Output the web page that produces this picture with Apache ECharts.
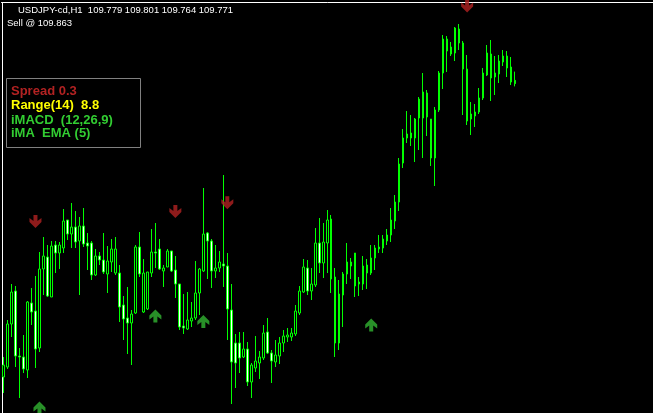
<!DOCTYPE html>
<html><head><meta charset="utf-8">
<script src="https://cdn.jsdelivr.net/npm/echarts@6/dist/echarts.min.js"></script>
<style>html,body{margin:0;padding:0;background:#000;overflow:hidden}#c{width:653px;height:413px}</style>
</head><body><div id="c"></div>
<script>
// USDJPY-cd H1 bars (oldest -> newest)
const opens = [109.0375,109.0625,109.17,109.2525,109.09,109.0875,109.055,109.2225,109.2025,109.11,
109.3075,109.3375,109.2375,109.3675,109.3475,109.36,109.43,109.395,109.4125,109.3775,
109.415,109.3725,109.3725,109.2925,109.34,109.33,109.295,109.325,109.2975,109.2975,
109.2175,109.185,109.1725,109.1975,109.3625,109.20,109.2075,109.2975,109.35,109.3575,
109.3025,109.3125,109.3525,109.305,109.27,109.165,109.1575,109.1775,109.185,109.2475,
109.3025,109.3975,109.3775,109.3025,109.31,109.32,109.315,109.205,109.1225,109.1225,
109.0875,109.1075,109.025,109.06,109.0725,109.085,109.15,109.0975,109.075,109.09,
109.1225,109.1375,109.1375,109.145,109.1975,109.25,109.31,109.2525,109.2675,109.3725,
109.3225,109.3725,109.4325,109.2875,109.1225,109.2425,109.295,109.325,109.3475,109.27,
109.27,109.3175,109.2975,109.335,109.3625,109.36,109.3775,109.3925,109.4275,109.475,
109.5725,109.635,109.6475,109.635,109.685,109.685,109.7475,109.6825,109.585,109.705,
109.7975,109.8825,109.8625,109.8475,109.9075,109.8725,109.8075,109.6825,109.69,109.70,
109.735,109.7925,109.845,109.7875,109.795,109.825,109.84,109.8125,109.779];
const highs = [109.0875,109.18,109.27,109.265,109.11,109.1425,109.2275,109.26,109.29,109.35,
109.3875,109.3675,109.3775,109.3775,109.375,109.4575,109.43,109.4725,109.4525,109.4375,
109.46,109.3975,109.3775,109.3575,109.35,109.3975,109.365,109.3825,109.3875,109.3175,
109.24,109.2625,109.205,109.3675,109.40,109.3325,109.30,109.4075,109.4225,109.3825,
109.3175,109.3575,109.3525,109.34,109.27,109.245,109.25,109.225,109.3275,109.31,
109.51,109.40,109.3825,109.3675,109.3525,109.5425,109.3475,109.27,109.145,109.15,
109.15,109.125,109.0725,109.14,109.1025,109.1675,109.185,109.105,109.13,109.1375,
109.155,109.16,109.16,109.2175,109.265,109.3325,109.33,109.31,109.41,109.435,
109.4225,109.455,109.4425,109.31,109.28,109.30,109.3725,109.335,109.3475,109.2875,
109.34,109.3325,109.3675,109.3675,109.3925,109.3925,109.4075,109.46,109.4925,109.585,
109.6575,109.7025,109.6925,109.685,109.7375,109.7975,109.755,109.6825,109.7125,109.8025,
109.8925,109.89,109.875,109.9125,109.92,109.8775,109.8425,109.725,109.72,109.76,
109.81,109.8675,109.88,109.84,109.8425,109.855,109.8525,109.8375,109.801];
const lows = [108.9975,109.0575,109.1375,109.0625,108.985,109.0475,109.035,109.1675,109.06,109.10,
109.2425,109.2375,109.2375,109.2975,109.3075,109.3475,109.38,109.36,109.36,109.2425,
109.3625,109.305,109.28,109.29,109.3175,109.295,109.2475,109.30,109.2925,109.175,
109.13,109.095,109.0675,109.195,109.2875,109.1975,109.205,109.2875,109.31,109.305,
109.2625,109.3125,109.30,109.235,109.155,109.145,109.155,109.1625,109.18,109.1925,
109.30,109.2825,109.26,109.285,109.30,109.2625,109.13,108.97,109.01,109.0475,
109.085,109.015,108.985,109.05,109.0325,109.08,109.095,109.0225,109.0625,109.07,
109.10,109.125,109.1275,109.14,109.1925,109.2475,109.2425,109.23,109.2625,109.2975,
109.285,109.2975,109.2475,109.0875,109.105,109.1625,109.27,109.2825,109.2375,109.24,
109.255,109.2575,109.2925,109.305,109.3475,109.3475,109.3675,109.375,109.4075,109.4525,
109.56,109.6225,109.615,109.575,109.605,109.585,109.64,109.565,109.515,109.70,
109.7575,109.80,109.84,109.8275,109.855,109.6925,109.6675,109.6425,109.6625,109.695,
109.73,109.79,109.7275,109.7425,109.7725,109.815,109.7875,109.7675,109.764];
const closes = [109.0675,109.17,109.25,109.09,109.0875,109.0575,109.225,109.20,109.1075,109.3075,
109.34,109.24,109.365,109.3475,109.3675,109.4275,109.395,109.4125,109.375,109.415,
109.37,109.365,109.2925,109.34,109.33,109.30,109.3275,109.3575,109.3575,109.2125,
109.1825,109.1725,109.195,109.3625,109.295,109.2975,109.30,109.35,109.3475,109.3075,
109.31,109.3525,109.3025,109.27,109.1625,109.16,109.18,109.185,109.2475,109.3075,
109.395,109.3775,109.3025,109.31,109.325,109.315,109.2075,109.075,109.0725,109.085,
109.1075,109.025,109.0675,109.0775,109.0875,109.1475,109.0975,109.0775,109.0925,109.1225,
109.14,109.1425,109.1475,109.2025,109.2525,109.3125,109.2525,109.27,109.3725,109.3225,
109.375,109.43,109.2825,109.1225,109.245,109.295,109.325,109.315,109.265,109.275,
109.315,109.2975,109.335,109.36,109.3575,109.3825,109.3925,109.43,109.475,109.57,
109.635,109.645,109.635,109.6825,109.7325,109.75,109.6875,109.585,109.705,109.7975,
109.8825,109.8525,109.845,109.91,109.8725,109.8075,109.6775,109.695,109.70,109.735,
109.7975,109.8475,109.785,109.7975,109.8275,109.84,109.81,109.775,109.771];
const totalSlots = 163;
const categories = Array.from({length: totalSlots}, (_, i) => String(i));

// indicator arrows (bar index, price)
const downArrowIdx = [8, 43, 56, 116];
const downArrowVal = [109.426, 109.451, 109.473, 109.965];
const upArrowIdx = [9, 38, 50, 92];
const upArrowVal = [108.96, 109.19, 109.176, 109.1675];

const headerText = 'USDJPY-cd,H1  109.779 109.801 109.764 109.771';
const sellText = 'Sell @ 109.863';
const infoLines = ['Spread 0.3', 'Range(14)  8.8', 'iMACD  (12,26,9)', 'iMA  EMA (5)'];
const infoColors = ['#b22222', '#ffff00', '#32cd32', '#32cd32'];

const candleData = opens.map((o, i) => [o, closes[i], lows[i], highs[i]]);
const downData = downArrowIdx.map((x, i) => [x, downArrowVal[i]]);
const upData = upArrowIdx.map((x, i) => [x, upArrowVal[i]]);

const infoY = [91.5, 105, 120, 133.5];
const graphic = [
  {type:'text', left:18, top:5, style:{text:headerText, fill:'#fff', font:'9.5px "Liberation Sans"'}},
  {type:'text', left:7, top:18.5, style:{text:sellText, fill:'#fff', font:'9.5px "Liberation Sans"'}},
  {type:'rect', shape:{x:6.5, y:78.5, width:134, height:69}, style:{fill:'rgba(0,0,0,0)', stroke:'#808080', lineWidth:1}}
];
infoLines.forEach((t, i) => graphic.push({
  type:'text', x:11, y:infoY[i],
  style:{text:t, fill:infoColors[i], font:'bold 13px "Liberation Sans"', verticalAlign:'middle', textVerticalAlign:'middle'}
}));

const chart = echarts.init(document.getElementById('c'), null, {renderer:'canvas'});
chart.setOption({
  backgroundColor:'#000',
  animation:false,
  grid:{left:1.5, right:-0.5, top:2.5, bottom:0},
  xAxis:{type:'category', data:categories, position:'top', boundaryGap:true,
    axisLine:{show:true, lineStyle:{color:'#fff', width:1}}, axisTick:{show:false}, axisLabel:{show:false}, splitLine:{show:false}},
  yAxis:{type:'value', min:108.9475, max:109.97375, position:'left', offset:-1,
    axisLine:{show:true, lineStyle:{color:'#fff', width:1}}, axisTick:{show:false}, axisLabel:{show:false}, splitLine:{show:false}},
  series:[
    {type:'candlestick', data:candleData, barWidth:2,
      itemStyle:{color:'#000', color0:'#fff', borderColor:'#00ff00', borderColor0:'#00ff00', borderWidth:1}},
    {type:'scatter', data:downData, symbol:'path://M4,0 L8,0 L8,6 L12,3 L12,7 L6,13 L0,7 L0,3 L4,6 Z',
      symbolSize:[12,13], itemStyle:{color:'#b22222'}, z:5},
    {type:'scatter', data:upData, symbol:'path://M4,13 L8,13 L8,7 L12,10 L12,6 L6,0 L0,6 L0,10 L4,7 Z',
      symbolSize:[12,13], itemStyle:{color:'#32b432'}, z:5}
  ],
  graphic:graphic
});
</script></body></html>
